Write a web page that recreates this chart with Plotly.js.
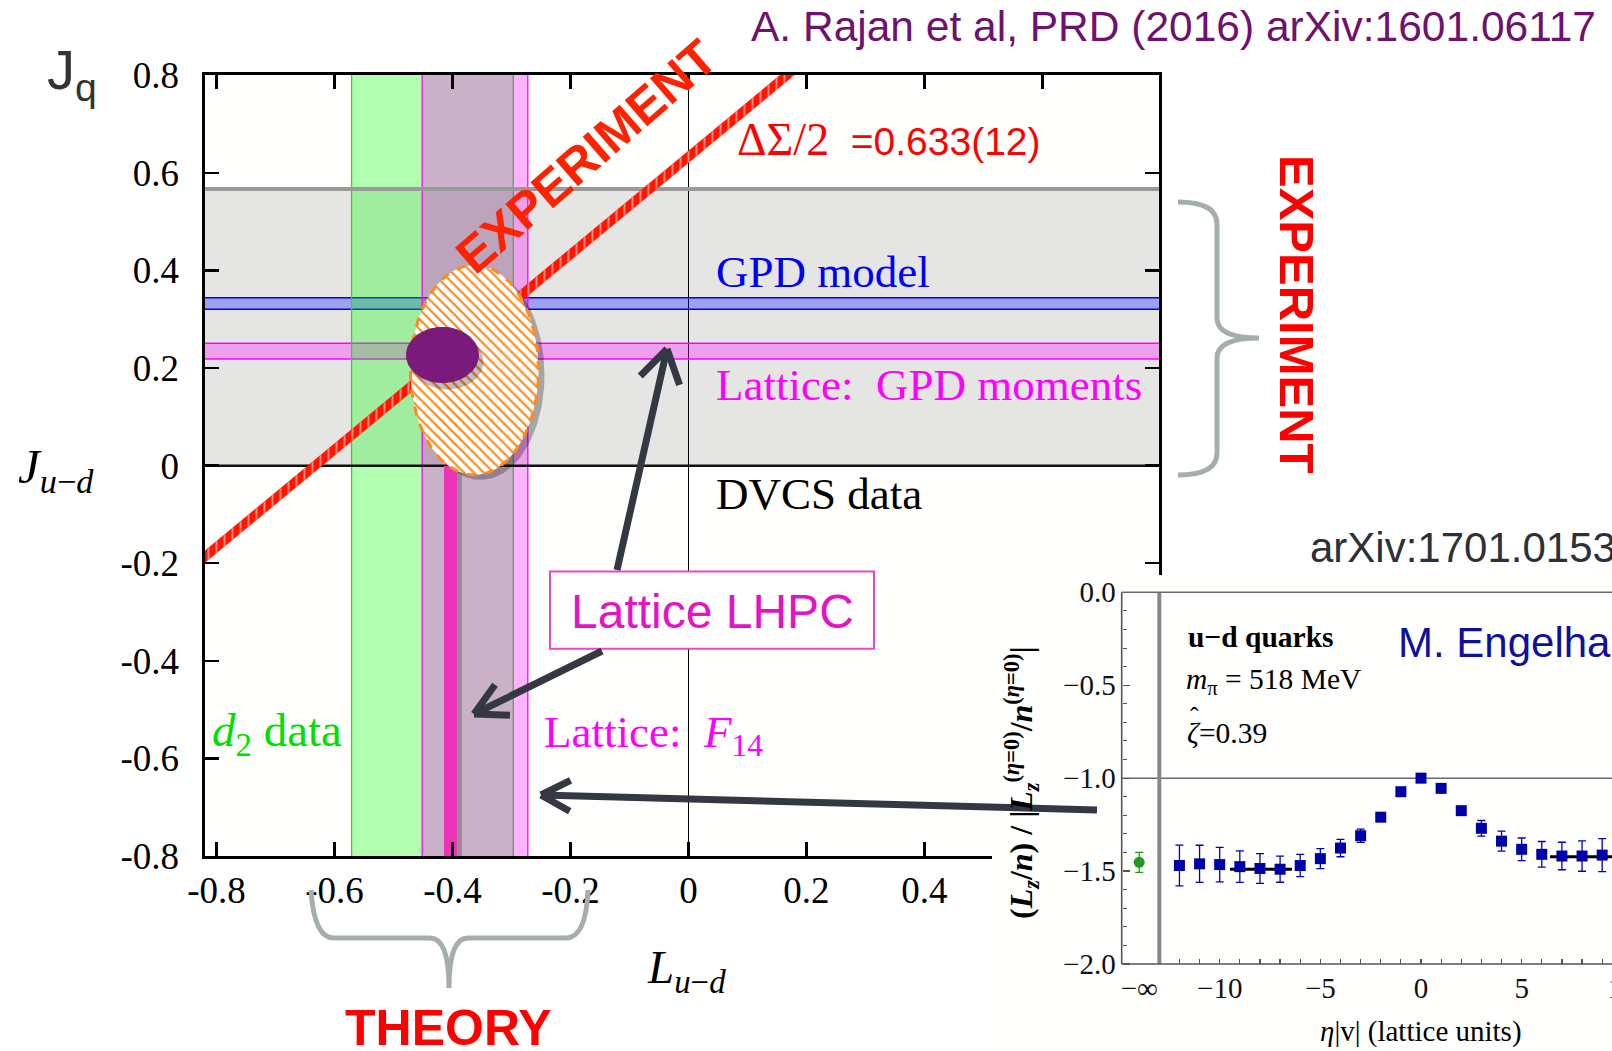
<!DOCTYPE html>
<html>
<head>
<meta charset="utf-8">
<script src="https://cdn.plot.ly/plotly-3.0.1.min.js"></script>
<style>
  html, body { margin: 0; padding: 0; overflow: hidden; background: #fff; }
  #frame { position: relative; width: 1612px; height: 1051px; overflow: hidden; }
  #chart { position: absolute; left: 0; top: 0; width: 1700px; height: 1051px; }
</style>
</head>
<body>
<div id="frame"><div id="chart"></div></div>
<script>
// ---------------- main panel: J_{u-d} versus L_{u-d} ----------------
const mainTickVals = [-0.8, -0.6, -0.4, -0.2, 0, 0.2, 0.4, 0.6, 0.8];
const mainTickText = ['-0.8', '-0.6', '-0.4', '-0.2', '0', '0.2', '0.4', '0.6', '0.8'];

const dvcsBandJ       = [0, 0.567];          // DVCS data (J range)
const gpdModelBandJ   = [0.3205, 0.344];     // GPD model
const latticeGpdBandJ = [0.2186, 0.2508];    // Lattice: GPD moments
const d2BandL         = [-0.571, -0.297];    // d2 data (L range)
const latticeF14BandL = [-0.4514, -0.2723];  // Lattice: F14
const lhpcL           = [-0.4034];           // Lattice LHPC
const deltaSigmaHalf  = [0.633, 0.012];      // ΔΣ/2 value and error: J = L + ΔΣ/2
const expEllipseCenter = [-0.3627, 0.196];
const expEllipseRadius = [0.1085, 0.215];
const lhpcPointCenter  = [-0.417, 0.2268];
const lhpcPointRadius  = [0.061, 0.0567];

// ---------------- inset: Engelhardt lattice ratio ----------------
const etaVals   = [-12, -11, -10, -9, -8, -7, -6, -5, -4, -3, -2, -1, 0, 1, 2, 3, 4, 5, 6, 7, 8, 9];
const ratioVals = [-1.47, -1.461, -1.465, -1.476, -1.486, -1.49, -1.47, -1.433, -1.376, -1.31, -1.21,
                   -1.073, -1.0, -1.055, -1.175, -1.27, -1.339, -1.383, -1.41, -1.419, -1.419, -1.414];
const ratioErrs = [0.11, 0.10, 0.093, 0.085, 0.08, 0.07, 0.06, 0.054, 0.047, 0.036, 0.02,
                   0.008, 0.004, 0.008, 0.02, 0.042, 0.054, 0.061, 0.069, 0.074, 0.082, 0.089];
const limitEta = [-14];
const limitVal = [-1.453];
const limitErr = [0.054];
const plateauLeftEta  = [-9.49, -6.41];
const plateauLeftVal  = [-1.49, -1.49];
const plateauRightEta = [6.41, 9.6];
const plateauRightVal = [-1.423, -1.423];
const insetRefLevel = [-1.0];
const cutoffEta = [-13];
const insetXTickVals = [-14, -10, -5, 0, 5, 10];
const insetXTickText = ['\u2212\u221e', '\u221210', '\u22125', '0', '5', '10'];
const insetXMinor = [-12, -11, -10, -9, -8, -7, -6, -5, -4, -3, -2, -1, 0, 1, 2, 3, 4, 5, 6, 7, 8, 9, 10, 11, 12, 13];
const insetYTickVals = [0, -0.5, -1, -1.5, -2];
const insetYTickText = ['0.0', '\u22120.5', '\u22121.0', '\u22121.5', '\u22122.0'];
const insetYMinor = [-0.1, -0.2, -0.3, -0.4, -0.6, -0.7, -0.8, -0.9, -1.1, -1.2, -1.3, -1.4, -1.6, -1.7, -1.8, -1.9];

// ---------------- page geometry ----------------
const W = 1700, H = 1051;
const px = x => x / W;
const py = y => 1 - y / H;

const MAIN = { left: 204.5, right: 1159, top: 74.5, bottom: 856 };
const X_RANGE = [-0.8203, 0.7975];
const Y_RANGE = [-0.8, 0.8016];

const INSET_PANEL = { left: 992, top: 575 };
const ETA_ZERO_PX = 1421, PX_PER_ETA = 20.13;
const INSET_TOP_PX = 592.3, INSET_BOTTOM_PX = 964, INSET_AXIS_PX = 1121.7;
const PX_PER_UNIT = (INSET_BOTTOM_PX - INSET_TOP_PX) / 2;
const etaAt = x => (x - ETA_ZERO_PX) / PX_PER_ETA;
const valAt = y => -(y - INSET_TOP_PX) / PX_PER_UNIT;
const ETA_MIN = etaAt(INSET_AXIS_PX), ETA_MAX = etaAt(W);

const SERIF = 'Liberation Serif, Times New Roman, serif';
const SANS = 'Liberation Sans, Arial, sans-serif';

function ellipseOutline(c, r, n) {
  const xs = [], ys = [];
  for (let i = 0; i <= n; i++) {
    const t = 2 * Math.PI * i / n;
    xs.push(c[0] + r[0] * Math.cos(t));
    ys.push(c[1] + r[1] * Math.sin(t));
  }
  return { xs, ys };
}
function hBand(b, fill, line, lw) {
  return { type: 'scatter', mode: 'lines', x: [-2, 2, 2, -2, -2], y: [b[0], b[0], b[1], b[1], b[0]],
           fill: 'toself', fillcolor: fill, line: { color: line, width: lw }, hoverinfo: 'skip' };
}
function vBand(b, fill, line, lw) {
  return { type: 'scatter', mode: 'lines', x: [b[0], b[1], b[1], b[0], b[0]], y: [-2, -2, 2, 2, -2],
           fill: 'toself', fillcolor: fill, line: { color: line, width: lw }, hoverinfo: 'skip' };
}

// pixel offsets expressed in data units of the main panel
const dLperPx = (X_RANGE[1] - X_RANGE[0]) / (MAIN.right - MAIN.left);
const dJperPx = (Y_RANGE[1] - Y_RANGE[0]) / (MAIN.bottom - MAIN.top);

const expOutline = ellipseOutline(expEllipseCenter, expEllipseRadius, 160);
const expShadow = ellipseOutline([expEllipseCenter[0] + 6 * dLperPx, expEllipseCenter[1] - 5 * dJperPx], expEllipseRadius, 160);
const dotOutline = ellipseOutline(lhpcPointCenter, lhpcPointRadius, 100);
const dotShadow = ellipseOutline([lhpcPointCenter[0] + 5 * dLperPx, lhpcPointCenter[1] - 7 * dJperPx], lhpcPointRadius, 100);

const Lends = [-2, 2];
const dsLo = deltaSigmaHalf[0] - deltaSigmaHalf[1];
const dsHi = deltaSigmaHalf[0] + deltaSigmaHalf[1];

const traces = [
  hBand(dvcsBandJ, 'rgba(0,0,0,0.1)', 'rgba(0,0,0,0)', 0),
  hBand(gpdModelBandJ, 'rgba(0,0,255,0.3)', '#0000ff', 1.6),
  hBand(latticeGpdBandJ, 'rgba(255,0,255,0.3)', '#ff00ff', 1.6),
  vBand(d2BandL, 'rgba(0,255,0,0.3)', '#22dd22', 1.3),
  vBand(latticeF14BandL, 'rgba(255,0,255,0.3)', '#ff00ff', 1.3),
  // DVCS band edges
  { type: 'scatter', mode: 'lines', x: [-2, 2], y: [dvcsBandJ[1], dvcsBandJ[1]], line: { color: '#999999', width: 4 }, hoverinfo: 'skip' },
  { type: 'scatter', mode: 'lines', x: [-2, 2], y: [dvcsBandJ[0], dvcsBandJ[0]], line: { color: '#111111', width: 2.5 }, hoverinfo: 'skip' },
  // ΔΣ/2 line: J = L + ΔΣ/2
  { type: 'scatter', mode: 'lines',
    x: [Lends[0], Lends[1], Lends[1], Lends[0], Lends[0]],
    y: [Lends[0] + dsHi, Lends[1] + dsHi, Lends[1] + dsLo, Lends[0] + dsLo, Lends[0] + dsHi],
    fill: 'toself', fillcolor: '#ff1500', line: { color: '#ff1500', width: 0.5 },
    fillpattern: { shape: '|', bgcolor: '#ff1500', fgcolor: '#ffffff', size: 8, solidity: 0.12 },
    hoverinfo: 'skip' },
  // Lattice LHPC vertical line with its shadow
  { type: 'scatter', mode: 'lines', x: [lhpcL[0] + 8 * dLperPx, lhpcL[0] + 8 * dLperPx], y: [0, -0.8],
    line: { color: 'rgba(60,60,60,0.35)', width: 7 }, hoverinfo: 'skip' },
  { type: 'scatter', mode: 'lines', x: [lhpcL[0], lhpcL[0]], y: [0, -0.8],
    line: { color: '#ee33bb', width: 13 }, hoverinfo: 'skip' },
  // experimental ellipse
  { type: 'scatter', mode: 'lines', x: expShadow.xs, y: expShadow.ys, fill: 'toself',
    fillcolor: 'rgba(0,0,0,0.28)', line: { color: 'rgba(0,0,0,0)', width: 0 }, hoverinfo: 'skip' },
  { type: 'scatter', mode: 'lines', x: expOutline.xs, y: expOutline.ys, fill: 'toself',
    fillcolor: '#ffffff',
    fillpattern: { shape: '\\', bgcolor: '#ffffff', fgcolor: '#ff8a1c', size: 7, solidity: 0.32 },
    line: { color: '#ff8a1c', width: 3, dash: 'dash' }, hoverinfo: 'skip' },
  // lattice point
  { type: 'scatter', mode: 'lines', x: dotShadow.xs, y: dotShadow.ys, fill: 'toself',
    fillcolor: 'rgba(0,0,0,0.25)', line: { color: 'rgba(0,0,0,0)', width: 0 }, hoverinfo: 'skip' },
  { type: 'scatter', mode: 'lines', x: dotOutline.xs, y: dotOutline.ys, fill: 'toself',
    fillcolor: '#7a1a7a', line: { color: '#7a1a7a', width: 1 }, hoverinfo: 'skip' },

  // ---- inset ----
  { type: 'scatter', mode: 'lines', xaxis: 'x2', yaxis: 'y2', x: [ETA_MIN, ETA_MAX], y: [insetRefLevel[0], insetRefLevel[0]],
    line: { color: '#6a6a6a', width: 1.5 }, hoverinfo: 'skip' },
  { type: 'scatter', mode: 'lines', xaxis: 'x2', yaxis: 'y2', x: [cutoffEta[0], cutoffEta[0]], y: [0, -2],
    line: { color: '#888888', width: 4 }, hoverinfo: 'skip' },
  { type: 'scatter', mode: 'lines', xaxis: 'x2', yaxis: 'y2', x: plateauLeftEta, y: plateauLeftVal,
    line: { color: '#000000', width: 3 }, hoverinfo: 'skip' },
  { type: 'scatter', mode: 'lines', xaxis: 'x2', yaxis: 'y2', x: plateauRightEta, y: plateauRightVal,
    line: { color: '#000000', width: 3 }, hoverinfo: 'skip' },
  { type: 'scatter', mode: 'markers', xaxis: 'x2', yaxis: 'y2', x: etaVals, y: ratioVals,
    marker: { symbol: 'square', size: 11, color: '#0000a8' },
    error_y: { type: 'data', array: ratioErrs, color: '#0000c0', thickness: 1.3, width: 4 } },
  { type: 'scatter', mode: 'markers', xaxis: 'x2', yaxis: 'y2', x: limitEta, y: limitVal,
    marker: { symbol: 'circle', size: 11, color: '#1f9a1f' },
    error_y: { type: 'data', array: limitErr, color: '#1f9a1f', thickness: 1.3, width: 4 } }
];

// ---------------- decorations ----------------
function P(x, y) { return px(x).toFixed(5) + ',' + py(y).toFixed(5); }
function arrow(tail, tip, armLen, halfDeg) {
  const color = '#343842', width = 7;
  let dx = tail[0] - tip[0], dy = tail[1] - tip[1];
  const len = Math.hypot(dx, dy); dx /= len; dy /= len;
  const a = halfDeg * Math.PI / 180;
  const rot = s => [dx * Math.cos(s * a) - dy * Math.sin(s * a), dx * Math.sin(s * a) + dy * Math.cos(s * a)];
  const r1 = rot(1), r2 = rot(-1);
  const seg = (p, q) => ({ type: 'line', xref: 'paper', yref: 'paper', layer: 'above',
    x0: px(p[0]), y0: py(p[1]), x1: px(q[0]), y1: py(q[1]), line: { color, width } });
  return [seg(tail, tip),
          seg(tip, [tip[0] + armLen * r1[0], tip[1] + armLen * r1[1]]),
          seg(tip, [tip[0] + armLen * r2[0], tip[1] + armLen * r2[1]])];
}

const braceRight = 'M' + P(1178, 202) + ' Q' + P(1217, 202) + ' ' + P(1217, 224) +
  ' L' + P(1217, 318) + ' Q' + P(1217, 338) + ' ' + P(1259, 338) +
  ' Q' + P(1217, 338) + ' ' + P(1217, 358) + ' L' + P(1217, 453) +
  ' Q' + P(1217, 475) + ' ' + P(1178, 475);
const braceBottom = 'M' + P(311, 890) + ' Q' + P(314, 938) + ' ' + P(334, 938) +
  ' L' + P(430, 938) + ' Q' + P(449, 938) + ' ' + P(449, 988) +
  ' Q' + P(449, 938) + ' ' + P(468, 938) + ' L' + P(566, 938) +
  ' Q' + P(586, 938) + ' ' + P(588, 890);

const shapes = [
  { type: 'rect', xref: 'paper', yref: 'paper', layer: 'above',
    x0: px(550), x1: px(874), y0: py(571.6), y1: py(648.7),
    fillcolor: '#ffffff', line: { color: '#ee44cc', width: 2 } },
  { type: 'path', xref: 'paper', yref: 'paper', layer: 'above', path: braceRight,
    line: { color: '#a5aeaa', width: 5 } },
  { type: 'path', xref: 'paper', yref: 'paper', layer: 'above', path: braceBottom,
    line: { color: '#a5aeaa', width: 5 } },
  ...arrow([617, 570], [667, 349], 38, 32),
  ...arrow([602, 651], [474, 714], 36, 28),
  // inset frame
  { type: 'line', xref: 'x2', yref: 'y2', layer: 'above', x0: ETA_MIN, x1: ETA_MIN, y0: 0, y1: -2,
    line: { color: '#555555', width: 1.6 } },
  { type: 'line', xref: 'x2', yref: 'y2', layer: 'above', x0: ETA_MIN, x1: ETA_MAX, y0: -2, y1: -2,
    line: { color: '#555555', width: 1.6 } },
  { type: 'line', xref: 'x2', yref: 'y2', layer: 'above', x0: ETA_MIN, x1: ETA_MAX, y0: 0, y1: 0,
    line: { color: '#6a6a6a', width: 1.6 } },
  ...arrow([1097, 810], [541, 795], 33, 28)
];

function ann(text, x, y, o) {
  return Object.assign({ text, x: px(x), y: py(y), xref: 'paper', yref: 'paper', showarrow: false,
    xanchor: 'center', yanchor: 'middle' }, o);
}
const fS = (size, color) => ({ family: SANS, size, color });
const fR = (size, color) => ({ family: SERIF, size, color });

const annotations = [
  ann('A. Rajan et al, PRD (2016) arXiv:1601.06117', 1173, 27, { font: fS(42.5, '#6e126e') }),
  ann('J<sub>q</sub>', 45, 73, { xanchor: 'left', font: fS(56, '#333333') }),
  ann('<i>J</i><sub><i>u</i>\u2212<i>d</i></sub>', 56, 470, { font: fR(49, '#000') }),
  ann('<i>L</i><sub><i>u</i>\u2212<i>d</i></sub>', 686, 970, { font: fR(47, '#000') }),
  ann('<span style="font-family:Liberation Serif;font-size:46px">\u0394\u03a3/2</span>\u00a0\u00a0=0.633(12)', 735, 139,
      { xanchor: 'left', font: fS(39, '#ff0000') }),
  ann('GPD model', 714, 272, { xanchor: 'left', font: fR(45, '#0000ff') }),
  ann('Lattice:\u00a0 GPD moments', 714, 385, { xanchor: 'left', font: fR(45, '#ff00ff') }),
  ann('DVCS data', 714, 494, { xanchor: 'left', font: fR(45, '#000000') }),
  ann('<i>d</i><sub>2</sub> data', 210, 733, { xanchor: 'left', font: fR(47, '#00e000') }),
  ann('Lattice:\u00a0 <i>F</i><sub>14</sub>', 542, 735, { xanchor: 'left', font: fR(45, '#ff00ff') }),
  ann('Lattice LHPC', 712, 611, { font: fS(48, '#e414c4') }),
  ann('<b>EXPERIMENT</b>', 586, 157, { textangle: -41, font: fS(50, '#ff2200') }),
  ann('<b>EXPERIMENT</b>', 1297, 314, { textangle: 90, font: fS(49, '#ff0000') }),
  ann('<b>THEORY</b>', 448, 1028, { font: fS(50, '#ff0000') }),
  // inset texts
  ann('arXiv:1701.01536', 1308, 547, { xanchor: 'left', font: fS(42, '#2e3038') }),
  ann('M. Engelhardt', 1396, 642, { xanchor: 'left', font: fS(42, '#10109a') }),
  ann('<b>u\u2212d quarks</b>', 1186, 637, { xanchor: 'left', font: fR(29.5, '#000') }),
  ann('<i>m</i><sub>\u03c0</sub> = 518 MeV', 1184, 681, { xanchor: 'left', font: fR(29.5, '#000') }),
  ann('<i>\u03b6</i>=0.39', 1185, 733, { xanchor: 'left', font: fR(29.5, '#000') }),
  ann('\u02c6', 1194, 716, { font: fR(26, '#000') }),
  ann('<b>(<i>L<sub>z</sub></i>/<i>n</i>) / |<i>L</i><sub><i>z</i></sub><sup>(<i>\u03b7</i>=0)</sup>/<i>n</i><sup>(<i>\u03b7</i>=0)</sup>|</b>',
      1021, 783, { textangle: -90, font: fR(32, '#000') }),
  ann('<i>\u03b7</i>|v| (lattice units)', 1421, 1031, { font: fR(29, '#000') })
];

const layout = {
  width: W, height: H,
  margin: { l: 0, r: 0, t: 0, b: 0 },
  paper_bgcolor: '#ffffff',
  plot_bgcolor: '#fffffe',
  showlegend: false,
  xaxis: {
    domain: [px(MAIN.left), px(MAIN.right)], range: X_RANGE, anchor: 'y',
    showline: true, linecolor: '#000', linewidth: 3, mirror: 'ticks',
    ticks: 'inside', ticklen: 14, tickwidth: 2.5, tickcolor: '#000',
    tickmode: 'array', tickvals: mainTickVals, ticktext: mainTickText,
    tickfont: { family: SERIF, size: 37, color: '#000' }, ticklabelstandoff: 0,
    showgrid: false, zeroline: true, zerolinecolor: '#000', zerolinewidth: 1.5, fixedrange: true
  },
  yaxis: {
    domain: [py(MAIN.bottom), py(MAIN.top)], range: Y_RANGE, anchor: 'x',
    showline: true, linecolor: '#000', linewidth: 3, mirror: 'ticks',
    ticks: 'inside', ticklen: 14, tickwidth: 2.5, tickcolor: '#000',
    tickmode: 'array', tickvals: mainTickVals, ticktext: mainTickText,
    tickfont: { family: SERIF, size: 37, color: '#000' }, ticklabelstandoff: 15,
    showgrid: false, zeroline: false, fixedrange: true
  },
  xaxis2: {
    domain: [px(INSET_PANEL.left), 1], range: [etaAt(INSET_PANEL.left), ETA_MAX],
    anchor: 'free', position: py(INSET_BOTTOM_PX),
    showline: false, showgrid: false, zeroline: false,
    ticks: '', tickmode: 'array', tickvals: insetXTickVals, ticktext: insetXTickText,
    tickfont: { family: SERIF, size: 29, color: '#111' }, ticklabelstandoff: 4,
    minor: { tickmode: 'array', tickvals: insetXMinor, ticks: 'inside', ticklen: 5, tickwidth: 1.2, tickcolor: '#555', showgrid: false },
    fixedrange: true
  },
  yaxis2: {
    domain: [0, py(INSET_PANEL.top)], range: [valAt(H), valAt(INSET_PANEL.top)],
    anchor: 'free', position: px(INSET_AXIS_PX),
    showline: false, showgrid: false, zeroline: false,
    ticks: 'inside', ticklen: 7, tickwidth: 1.2, tickcolor: '#555',
    tickmode: 'array', tickvals: insetYTickVals, ticktext: insetYTickText,
    tickfont: { family: SERIF, size: 29, color: '#111' }, ticklabelstandoff: 6,
    minor: { tickmode: 'array', tickvals: insetYMinor, ticks: 'inside', ticklen: 4, tickwidth: 1, tickcolor: '#555', showgrid: false },
    fixedrange: true
  },
  shapes, annotations
};

Plotly.newPlot('chart', traces, layout, { staticPlot: true, displayModeBar: false });
</script>
</body>
</html>
